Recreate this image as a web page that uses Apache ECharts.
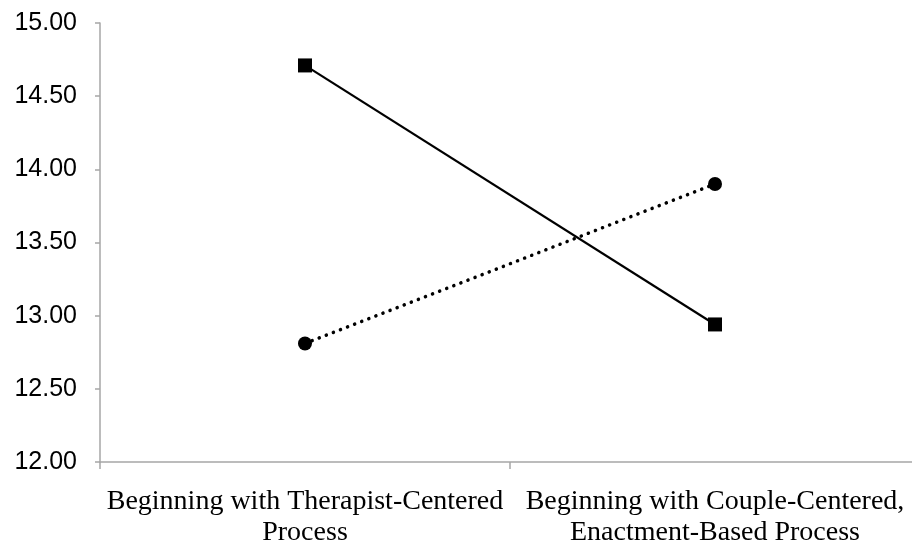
<!DOCTYPE html>
<html>

<head>
  <title>chart</title>
  <meta charset="utf-8">
  <style>
  html, body {
    margin: 0;
    padding: 0;
    background: #fff;
    overflow: hidden;
  }

  #main {
    width: 920px;
    height: 544px;
  }
  </style>
</head>

<body>
  <div id="main"></div>
  <script src="https://cdn.jsdelivr.net/npm/echarts@6/dist/echarts.min.js"></script>
  <script>
  const categories = ['Beginning with Therapist-Centered\nProcess', 'Beginning with Couple-Centered,\nEnactment-Based Process']
  const squareValues = [14.71, 12.94]
  const circleValues = [12.81, 13.90]
  const yMin = 12
  const yMax = 15
  const yStep = 0.5

  let option = {
    animation: false,
    grid: {
      left: 100,
      right: 0,
      top: 23,
      bottom: 82,
      containLabel: false,
      outerBoundsMode: 'none',
    },
    xAxis: {
      type: 'category',
      data: categories,
      boundaryGap: true,
      axisLine: { lineStyle: { color: '#a6a6a6', width: 1.5 } },
      axisTick: { show: true, length: 7, lineStyle: { color: '#a6a6a6', width: 1.5 } },
      axisLabel: {
        interval: 0,
        margin: 24,
        color: '#000',
        fontFamily: 'Liberation Serif',
        fontSize: 28,
        lineHeight: 31,
      },
    },
    yAxis: {
      type: 'value',
      min: yMin,
      max: yMax,
      interval: yStep,
      splitLine: { show: false },
      axisLine: { show: true, lineStyle: { color: '#a6a6a6', width: 1.5 } },
      axisTick: { show: true, length: 5, lineStyle: { color: '#a6a6a6', width: 1.5 } },
      axisLabel: {
        margin: 23,
        color: '#000',
        fontFamily: 'Liberation Sans',
        fontSize: 25,
        formatter: v => v.toFixed(2),
      },
    },
    series: [{
      name: 'square',
      type: 'line',
      data: squareValues,
      symbol: 'rect',
      symbolSize: 14,
      itemStyle: { color: '#000' },
      lineStyle: { color: '#000', width: 2.2 },
    }, {
      name: 'circle',
      type: 'line',
      data: circleValues,
      symbol: 'circle',
      symbolSize: 14,
      itemStyle: { color: '#000' },
      lineStyle: { color: '#000', width: 3.5, type: [0.1, 7.5], cap: 'round' },
    }]
  }
  let myChart = echarts.init(document.getElementById('main'))
  myChart.setOption(option)
  </script>
</body>

</html>
